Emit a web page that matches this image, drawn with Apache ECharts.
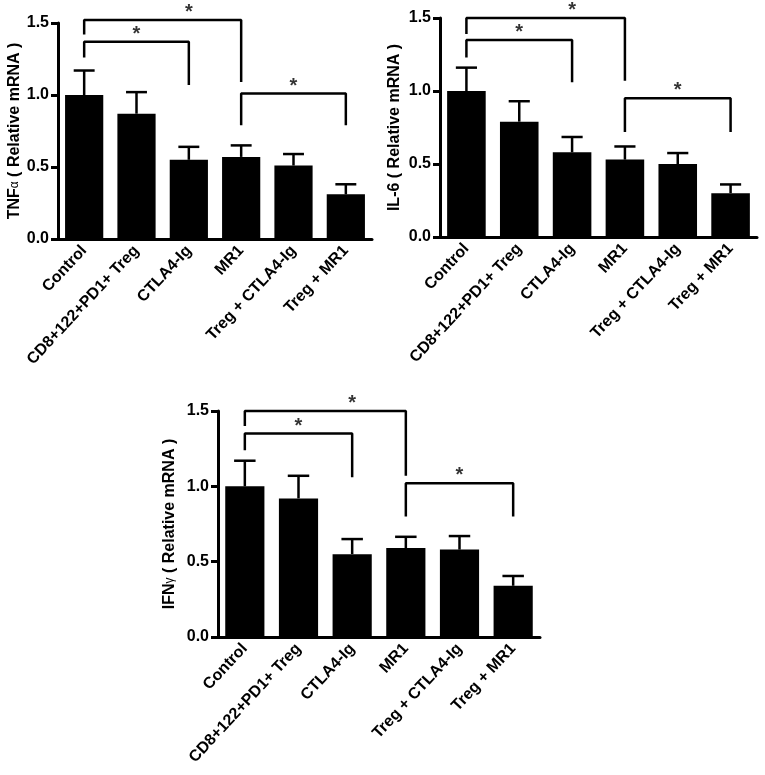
<!DOCTYPE html>
<html>
<head>
<meta charset="utf-8">
<script src="https://cdn.jsdelivr.net/npm/echarts@6/dist/echarts.min.js"></script>
<style>
  html, body { margin: 0; padding: 0; background: #fff; }
  #chart { width: 765px; height: 775px; }
</style>
</head>
<body>
<div id="chart"></div>
<script>
// groups on every x axis
const categories = ["Control", "CD8+122+PD1+ Treg", "CTLA4-Ig", "MR1", "Treg + CTLA4-Ig", "Treg + MR1"];
const yTicks = [0, 0.5, 1.0, 1.5];

// means and upper error (SEM) per panel
const tnfMean = [1.0, 0.87, 0.55, 0.57, 0.51, 0.31];
const tnfSem  = [0.17, 0.15, 0.09, 0.08, 0.08, 0.07];
const il6Mean = [1.0, 0.79, 0.58, 0.53, 0.50, 0.30];
const il6Sem  = [0.16, 0.14, 0.105, 0.09, 0.075, 0.06];
const ifnMean = [1.0, 0.92, 0.55, 0.59, 0.58, 0.34];
const ifnSem  = [0.17, 0.15, 0.10, 0.075, 0.09, 0.065];

// significance brackets: [from, to, top, left foot, right foot]
const tnfBrackets = [[0, 3, 1.52, 1.42, 1.09], [0, 2, 1.37, 1.26, 1.07], [3, 5, 1.01, 0.79, 0.79]];
const il6Brackets = [[0, 3, 1.50, 1.39, 1.07], [0, 2, 1.35, 1.23, 1.06], [3, 5, 0.95, 0.72, 0.72]];
const ifnBrackets = [[0, 3, 1.50, 1.40, 1.07], [0, 2, 1.35, 1.24, 1.06], [3, 5, 1.02, 0.80, 0.80]];

const panels = [
  { name: "TNF{g|α} ( Relative mRNA )", mean: tnfMean, sem: tnfSem, brackets: tnfBrackets, gap: 34,
    grid: { left: 58, top: 23, width: 314, height: 216 } },
  { name: "IL-6 ( Relative mRNA )", mean: il6Mean, sem: il6Sem, brackets: il6Brackets, gap: 37,
    grid: { left: 440, top: 18, width: 317, height: 219 } },
  { name: "IFN{g|γ} ( Relative mRNA )", mean: ifnMean, sem: ifnSem, brackets: ifnBrackets, gap: 40,
    grid: { left: 218, top: 411, width: 322, height: 226 } }
];

const font = "Liberation Sans, Arial, Helvetica, sans-serif";
const narrow = "Liberation Sans Narrow, Arial Narrow, Liberation Sans, sans-serif";
const chart = echarts.init(document.getElementById("chart"));

const grid = [], xAxis = [], yAxis = [], series = [];

panels.forEach((p, i) => {
  grid.push(p.grid);
  xAxis.push({
    type: "category", gridIndex: i, data: categories,
    axisLine: { lineStyle: { color: "#000", width: 3 } },
    axisTick: { alignWithLabel: true, length: 6, lineStyle: { color: "#000", width: 3 } },
    axisLabel: { rotate: 47, color: "#000", fontWeight: "bold", fontSize: 16, fontFamily: font, margin: 9, interval: 0 }
  });
  yAxis.push({
    type: "value", gridIndex: i, min: 0, max: 1.5, interval: 0.5,
    name: p.name, nameLocation: "middle", nameGap: p.gap, nameRotate: 90,
    nameTextStyle: {
      color: "#000", fontWeight: "bold", fontSize: 16, fontFamily: font,
      rich: { g: { color: "#000", fontWeight: "normal", fontSize: 12, fontFamily: font } }
    },
    axisLine: { show: true, lineStyle: { color: "#000", width: 3 } },
    axisTick: { show: true, length: 7, lineStyle: { color: "#000", width: 3 } },
    splitLine: { show: false },
    axisLabel: {
      color: "#000", fontWeight: "bold", fontSize: 16, fontFamily: narrow, margin: 9,
      formatter: v => yTicks.includes(v) ? v.toFixed(1) : ""
    }
  });

  series.push({
    type: "bar", xAxisIndex: i, yAxisIndex: i, data: p.mean,
    barWidth: "73%", itemStyle: { color: "#000" }, z: 2
  });

  series.push({
    type: "custom", xAxisIndex: i, yAxisIndex: i, z: 1,
    data: p.mean.map((m, k) => [k, m, m + p.sem[k]]),
    renderItem: (params, api) => {
      const base = api.coord([api.value(0), api.value(1)]);
      const top = api.coord([api.value(0), api.value(2)]);
      const half = api.size([1, 0])[0] * 0.2;
      const style = { stroke: "#000", lineWidth: 2.5 };
      return {
        type: "group",
        children: [
          { type: "line", shape: { x1: base[0], y1: base[1], x2: top[0], y2: top[1] }, style },
          { type: "line", shape: { x1: top[0] - half, y1: top[1], x2: top[0] + half, y2: top[1] }, style }
        ]
      };
    }
  });

  p.brackets.forEach(b => {
    series.push({
      type: "line", xAxisIndex: i, yAxisIndex: i, clip: false, symbol: "none",
      lineStyle: { color: "#000", width: 2.5 }, animation: false,
      data: [[b[0], b[3]], [b[0], b[2]], [b[1], b[2]], [b[1], b[4]]]
    });
  });

  series.push({
    type: "scatter", xAxisIndex: i, yAxisIndex: i, clip: false, symbolSize: 1,
    itemStyle: { color: "transparent" },
    data: p.brackets.map(b => [(b[0] + b[1]) / 2, b[2]]),
    label: {
      show: true, position: "top", distance: -3, formatter: "*",
      color: "#000", fontWeight: "bold", fontSize: 20, fontFamily: font
    }
  });
});

chart.setOption({
  animation: false,
  backgroundColor: "#fff",
  grid, xAxis, yAxis, series
});
</script>
</body>
</html>
